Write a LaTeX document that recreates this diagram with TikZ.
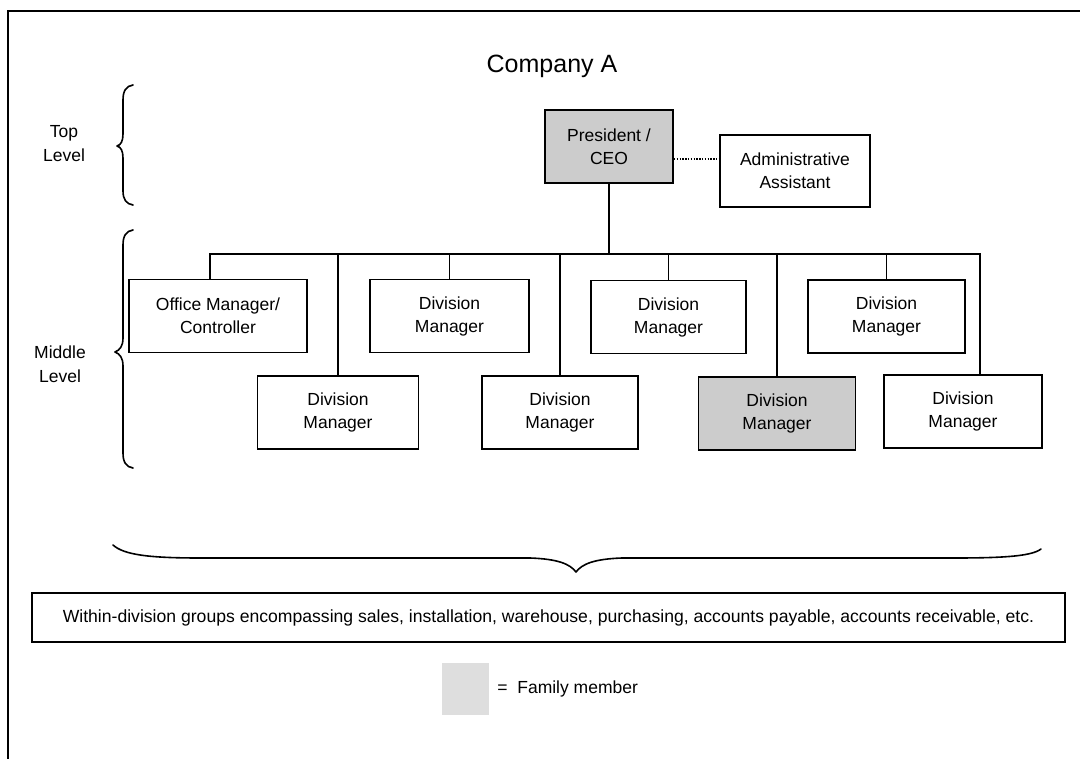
\documentclass[tikz,border=0pt]{standalone}
\usepackage{fontspec}
\setmainfont{Liberation Sans}
\begin{document}
\begin{tikzpicture}[x=1pt,y=-1pt,
  box/.style={draw, line width=1.8pt, minimum width=157pt, minimum height=73pt,
    align=center, inner sep=2pt, font=\fontsize{17.5}{23}\selectfont},
  family/.style={fill=black!20},
  link/.style={line width=1.8pt},
  bracepath/.style={line width=1.6pt, line cap=round, line join=round},
  lbl/.style={align=center, font=\fontsize{17.5}{24}\selectfont}]

\useasboundingbox (0,0) rectangle (1080,759);

% page frame
\draw[line width=2.5pt] (8,759) -- (8,11) -- (1080,11);

% title
\node[anchor=base, font=\fontsize{25}{30}\selectfont] (title) at (552,73) {Company A};

% level labels
\node[lbl] (toplbl) at (64,144) {Top\\Level};
\node[lbl] (midlbl) at (60,364) {Middle\\Level};

% level braces
\draw[bracepath] (133,85) .. controls (126,86) and (123,91) .. (123,100)
  -- (123,134) .. controls (123,141) and (121,145) .. (117,146)
  .. controls (121,147) and (123,151) .. (123,158)
  -- (123,191) .. controls (123,199) and (126,204) .. (133,205);
\draw[bracepath] (133,230) .. controls (126,231) and (123,236) .. (123,245)
  -- (123,338) .. controls (123,346) and (120,350) .. (115,352)
  .. controls (120,354) and (123,358) .. (123,366)
  -- (123,453) .. controls (123,462) and (126,467) .. (133,468);

% top level
\node[box, family, minimum width=128pt] (ceo) at (609,146.5) {President /\\CEO};
\node[box, minimum width=150pt, minimum height=72pt] (admin) at (795,171) {Administrative\\Assistant};
\coordinate (dl) at (673,159);
\draw[line width=1.3pt, dash pattern=on 1.4pt off 1.4pt] (ceo.east |- dl) -- (admin.west |- dl);

% middle level, upper row
\node[box, minimum width=178pt] (om) at (218,316) {Office Manager/\\Controller};
\node[box, minimum width=159pt] (t2) at (449.5,316) {Division\\Manager};
\node[box, minimum width=155pt] (t3) at (668.5,317) {Division\\Manager};
\node[box] (t4) at (886.5,316.5) {Division\\Manager};

% middle level, lower row
\node[box, minimum width=161pt] (b1) at (338,412.5) {Division\\Manager};
\node[box, minimum width=156pt] (b2) at (560,412.5) {Division\\Manager};
\node[box, family] (b3) at (777,413.5) {Division\\Manager};
\node[box, minimum width=158pt] (b4) at (963,411.5) {Division\\Manager};

% reporting lines
\coordinate (busL) at (210,254);
\coordinate (busR) at (980,254);
\draw[link, line cap=rect] (busL) -- (busR);
\draw[link] (ceo.south) -- (ceo.south |- busL);
\draw[link] (busL) -- (busL |- om.north);
\draw[link] (t2.north) -- (t2.north |- busL);
\draw[link] (t3.north) -- (t3.north |- busL);
\draw[link] (t4.north) -- (t4.north |- busL);
\draw[link] (b1.north) -- (b1.north |- busL);
\draw[link] (b2.north) -- (b2.north |- busL);
\draw[link] (b3.north) -- (b3.north |- busL);
\draw[link] (busR) -- (busR |- b4.north);

% brace over the within-division groups
\draw[bracepath] (113,545) .. controls (124,555) and (150,558) .. (200,558)
  -- (530,558) .. controls (558,559) and (570,564) .. (576,572)
  .. controls (582,564) and (594,559) .. (622,558)
  -- (955,558) .. controls (1005,558) and (1032,556) .. (1041,549);

\node[draw, line width=1.8pt, minimum width=1033pt, minimum height=49pt, inner sep=0pt,
  font=\fontsize{17.6}{22}\selectfont] (groups) at (548.5,617.5)
  {Within-division groups encompassing sales, installation, warehouse, purchasing, accounts payable, accounts receivable, etc.};

% legend
\node[fill=black!13, minimum width=47pt, minimum height=52pt, inner sep=0pt] (swatch) at (465.5,689) {};
\node[anchor=west, inner sep=0pt, font=\fontsize{17.5}{22}\selectfont] (legend)
  at ([xshift=8pt]swatch.east) {=\ \ Family member};

\end{tikzpicture}
\end{document}
